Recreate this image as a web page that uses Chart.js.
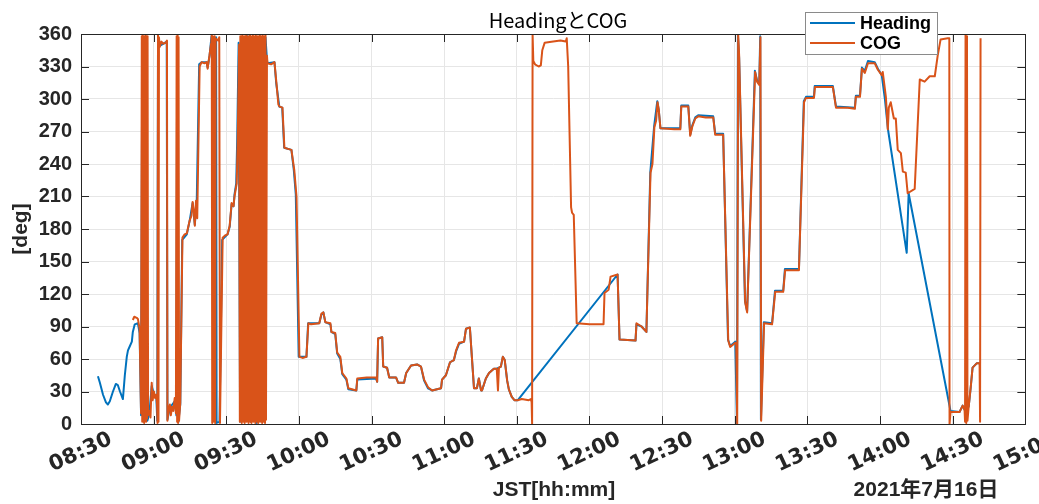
<!DOCTYPE html>
<html>
<head>
<meta charset="utf-8">
<script src="https://cdn.jsdelivr.net/npm/chart.js@4/dist/chart.umd.min.js"></script>
<style>
  html, body { margin: 0; padding: 0; background: #ffffff; }
  canvas { display: block; }
</style>
</head>
<body>
<canvas id="c" width="1039" height="504"></canvas>
<script>
// ---- data (x = minutes after 08:30 JST, y = degrees) ----
const xTickLabels = ['08:30','09:00','09:30','10:00','10:30','11:00','11:30','12:00','12:30','13:00','13:30','14:00','14:30','15:00'];
const yTickValues = [0,30,60,90,120,150,180,210,240,270,300,330,360];

const headingTime = [7.0,7.8,9.1,10.3,11.1,11.9,13.2,14.4,15.2,16.1,17.3,18.1,18.9,19.4,20.2,21.0,21.4,22.2,23.5,24.2,24.8,25.3,26.0,26.7,27.4,28.2,29.2,30.1,31.1,31.5,31.8,32.5,35.4,35.7,36.7,38.7,39.4,39.7,40.2,41.0,41.8,43.7,44.9,46.1,47.0,47.8,48.8,49.8,51.9,52.3,53.1,53.9,55.0,55.8,56.0,57.2,58.3,60.5,61.4,62.2,63.0,63.4,64.1,64.5,65.1,65.7,66.5,67.6,68.8,70.1,71.3,72.6,73.9,75.0,76.2,76.8,77.0,79.9,80.6,81.9,83.1,83.9,86.9,87.9,88.7,89.9,93.1,93.8,98.4,99.3,100.1,100.9,103.0,103.4,105.0,105.8,107.1,107.9,109.6,110.4,113.7,114.1,121.9,122.3,122.7,124.4,124.8,126.4,127.3,130.1,131.0,133.4,134.3,136.3,138.8,140.4,141.7,143.3,145.0,148.7,149.1,150.7,152.4,154.0,154.9,156.1,158.2,159.0,160.6,162.3,163.5,164.3,165.2,165.6,167.2,168.5,170.5,171.7,172.6,173.4,174.2,175.0,176.0,176.7,177.9,179.0,180.4,221.6,222.4,229.0,229.4,231.5,233.5,235.1,236.7,238.0,238.6,239.3,247.5,247.9,250.8,251.6,252.5,253.7,254.9,261.1,261.9,265.2,267.2,268.1,270.2,270.9,271.3,271.8,274.2,275.1,278.3,279.2,280.1,280.5,280.8,282.0,285.4,286.6,290.0,290.7,296.5,298.5,299.4,302.7,303.0,310.5,311.8,319.6,320.0,321.7,322.5,323.7,325.0,327.8,329.1,330.7,332.0,333.2,341.0,341.8,359.1,362.8,364.1,364.9,366.6,367.4,368.2,369.9,371.1];
const headingDeg = [44,38,27,20,18,21,30,37,36,30,23,45,62,68,72,76,85,92,93,84,8,357,2,358,3,9,35,28,25,3,357,349,353,4,15,21,8,357,2,18,170,175,188,204,184,206,332,334,334,329,340,358,356,357,1,2,170,175,182,203,201,212,222,262,352,2,357,3,358,2,357,1,358,2,357,336,333,334,315,293,292,255,253,234,212,62,62,93,93,101,103,94,92,85,83,65,60,46,41,32,31,41,42,39,79,80,53,52,43,43,38,38,47,54,55,53,40,33,31,33,41,45,57,59,67,74,76,88,89,33,33,42,31,31,42,47,51,51,52,53,62,59,40,32,25,22,22,138,78,77,92,90,85,232,275,298,290,273,273,294,294,267,276,283,285,284,268,268,78,72,76,1,359,338,114,104,326,317,314,358,4,94,93,123,123,143,143,298,302,302,312,312,293,292,303,303,329,326,335,334,328,322,300,273,158,213,12,11,17,13,16,33,52,56,56];

const cogTime = [21.4,22.0,23.0,23.5,24.2,24.8,25.1,25.3,25.5,25.7,25.9,26.1,26.3,26.5,26.7,26.9,27.1,27.3,27.5,27.7,28.2,28.7,29.2,29.6,30.1,30.6,31.1,31.4,31.6,31.8,32.0,32.2,32.5,33.2,34.0,35.0,35.5,35.7,36.2,36.7,37.1,37.6,38.1,38.7,39.2,39.5,39.7,39.9,40.1,40.3,40.5,41.0,41.9,42.8,43.7,44.9,45.6,46.1,46.6,47.0,47.5,48.0,49.0,49.8,51.0,51.9,52.3,53.1,53.8,54.0,54.2,54.4,54.6,54.8,55.0,55.2,55.4,55.6,56.0,56.6,57.1,57.4,58.5,59.5,60.5,61.4,62.2,63.0,63.4,64.3,64.7,65.3,65.6,65.8,66.0,66.2,66.4,66.6,66.8,67.0,67.2,67.4,67.6,67.8,68.0,68.2,68.4,68.6,68.8,69.0,69.2,69.4,69.6,69.8,70.0,70.2,70.4,70.6,70.8,71.0,71.2,71.4,71.6,71.8,72.0,72.2,72.4,72.6,72.8,73.0,73.2,73.4,73.6,73.8,74.0,74.2,74.4,74.6,74.8,75.0,75.2,75.4,75.6,75.8,76.0,76.2,76.4,76.8,77.0,78.5,79.9,80.7,81.5,82.0,83.2,84.0,85.5,86.9,88.1,89.0,90.2,91.5,93.1,93.9,95.0,98.4,99.3,100.1,100.9,103.0,103.4,105.0,105.8,107.1,107.9,109.6,110.4,113.7,114.1,118.0,121.9,122.3,122.7,124.4,124.8,126.4,127.3,130.1,131.0,133.4,134.3,136.3,138.8,140.4,141.7,143.3,145.0,148.7,149.1,150.7,152.4,154.0,154.9,156.1,158.2,159.0,160.6,162.3,163.5,164.3,165.2,165.6,167.2,168.5,170.5,171.7,172.2,172.6,173.4,174.2,175.0,176.0,176.7,177.9,179.0,180.4,182.0,184.9,185.8,186.1,186.3,186.5,186.8,187.5,189.0,189.9,190.5,191.5,195.0,198.0,200.2,200.6,201.2,202.4,202.8,203.5,204.7,210.0,215.8,216.2,217.9,218.7,221.6,222.4,229.0,229.4,231.5,233.5,235.2,236.0,236.8,237.5,238.1,238.6,239.3,245.0,247.5,247.9,250.8,251.6,252.5,253.7,254.9,258.0,261.1,261.9,265.2,267.3,268.1,270.2,270.6,271.0,271.4,271.8,274.3,275.1,278.4,279.2,280.1,280.6,280.9,282.1,285.4,286.7,290.0,290.8,296.5,298.6,299.4,302.7,303.1,310.5,311.8,316.7,319.6,320.0,321.7,322.5,323.7,325.0,327.8,329.1,330.7,331.1,332.4,333.2,333.6,334.4,335.7,336.5,337.3,338.6,339.4,340.6,341.4,344.3,346.4,348.4,350.5,352.6,353.8,355.0,357.9,358.6,358.7,359.1,362.8,364.1,364.9,365.1,365.3,365.6,365.9,366.1,366.6,367.4,368.2,369.9,371.1,371.3,371.5];
const cogDeg = [96,99,98,97,88,10,358,2,359,3,357,1,358,4,359,2,357,5,358,8,12,6,38,22,30,24,27,18,1,359,2,357,348,353,351,352,354,3,14,18,8,16,12,24,10,358,2,359,1,357,3,20,172,175,176,188,192,205,196,183,206,190,330,334,333,334,328,341,352,359,1,358,2,357,3,358,1,356,355,354,357,1,172,174,175,183,204,201,210,222,260,350,2,358,3,357,1,359,4,356,2,358,1,357,3,359,2,356,4,358,1,357,3,359,2,358,1,356,3,359,2,357,4,358,1,359,3,356,2,358,1,357,4,359,2,358,3,356,1,359,2,357,3,358,1,359,4,340,333,332,334,315,295,293,292,255,254,253,234,210,62,61,62,93,92,93,102,103,94,93,85,84,66,62,47,42,33,31,42,43,43,39,79,80,53,52,43,43,38,38,47,54,55,53,41,34,31,33,41,45,57,59,68,75,76,88,89,33,33,42,31,31,42,47,51,51,31,52,53,62,59,40,32,25,22,22,23,22,23,20,0,360,335,332,330,331,345,352,353,354,353,356,330,200,195,193,93,92,92,121,124,136,138,78,77,93,90,85,232,240,274,280,297,290,273,272,272,293,293,266,275,282,284,283,283,267,267,77,71,75,74,0,360,340,112,103,325,316,313,357,3,93,92,122,122,142,142,297,301,301,311,311,292,292,291,302,302,328,324,333,333,327,322,325,302,272,292,297,282,282,253,250,233,232,213,217,318,316,321,321,340,355,356,356,0,11,11,17,13,2,359,1,358,3,16,33,52,56,56,2,356];

const seriesNames = ['Heading', 'COG'];
const seriesColors = ['#0072BD', '#D95319'];

const TICK_COLOR = '#262626';
const FONT_FAMILY = '"Liberation Sans", "Noto Sans CJK JP", sans-serif';

function toPoints(ts, vs) { return ts.map((t, i) => ({ x: t, y: vs[i] })); }

const decorPlugin = {
  id: 'decor',
  afterDraw(chart) {
    const ctx = chart.ctx;
    const { left, right, top, bottom } = chart.chartArea;
    const xs = chart.scales.x, ys = chart.scales.y;
    ctx.save();
    ctx.strokeStyle = TICK_COLOR;
    ctx.lineWidth = 1;
    ctx.strokeRect(Math.round(left) + 0.5, Math.round(top) + 0.5, Math.round(right - left), Math.round(bottom - top));
    ctx.beginPath();
    xs.ticks.forEach(t => {
      const px = Math.round(xs.getPixelForValue(t.value)) + 0.5;
      ctx.moveTo(px, bottom); ctx.lineTo(px, bottom - 8);
      ctx.moveTo(px, top); ctx.lineTo(px, top + 8);
    });
    ys.ticks.forEach(t => {
      const py = Math.round(ys.getPixelForValue(t.value)) + 0.5;
      ctx.moveTo(left, py); ctx.lineTo(left + 8, py);
      ctx.moveTo(right, py); ctx.lineTo(right - 8, py);
    });
    ctx.stroke();

    ctx.fillStyle = '#000000';
    ctx.font = '20px "Noto Sans CJK JP", "Liberation Sans", sans-serif';
    ctx.textAlign = 'center';
    ctx.textBaseline = 'middle';
    ctx.fillText('HeadingとCOG', 558, 20);

    ctx.fillStyle = TICK_COLOR;
    ctx.font = 'bold 21px ' + FONT_FAMILY;
    ctx.fillText('JST[hh:mm]', 554, 490);
    ctx.fillText('2021年7月16日', 926, 490);
    ctx.save();
    ctx.translate(21, 229);
    ctx.rotate(-Math.PI / 2);
    ctx.fillText('[deg]', 0, 0);
    ctx.restore();

    const lx = 805, ly = 12, lw = 132, lh = 42;
    ctx.fillStyle = '#ffffff';
    ctx.fillRect(lx, ly, lw, lh);
    ctx.strokeStyle = '#8a8a8a';
    ctx.lineWidth = 1;
    ctx.strokeRect(lx + 0.5, ly + 0.5, lw, lh);
    const rows = [23, 43];
    seriesNames.forEach((name, i) => {
      ctx.strokeStyle = seriesColors[i];
      ctx.lineWidth = 2;
      ctx.beginPath();
      ctx.moveTo(810, rows[i]);
      ctx.lineTo(855, rows[i]);
      ctx.stroke();
      ctx.fillStyle = '#000000';
      ctx.font = 'bold 18px ' + FONT_FAMILY;
      ctx.textAlign = 'left';
      ctx.textBaseline = 'middle';
      ctx.fillText(name, 860, rows[i] + 1);
    });
    ctx.restore();
  }
};

new Chart(document.getElementById('c'), {
  type: 'line',
  data: {
    datasets: [
      { label: seriesNames[0], data: toPoints(headingTime, headingDeg), borderColor: seriesColors[0],
        borderWidth: 2, pointRadius: 0, tension: 0, fill: false, order: 1, borderDash: [5000, 0], borderJoinStyle: 'round' },
      { label: seriesNames[1], data: toPoints(cogTime, cogDeg), borderColor: seriesColors[1],
        borderWidth: 2, pointRadius: 0, tension: 0, fill: false, order: 0, borderDash: [5000, 0], borderJoinStyle: 'round' }
    ]
  },
  options: {
    responsive: false,
    animation: false,
    devicePixelRatio: 1,
    layout: { padding: { left: 0, right: 11, top: 34, bottom: 0 } },
    plugins: { legend: { display: false }, tooltip: { enabled: false }, title: { display: false } },
    scales: {
      x: {
        type: 'linear', min: 0, max: 390,
        afterBuildTicks: (s) => { s.ticks = xTickLabels.map((_, i) => ({ value: i * 30 })); },
        afterFit: (s) => { s.height = 80; },
        ticks: {
          autoSkip: false, minRotation: 25, maxRotation: 25, padding: 3, labelOffset: 30,
          color: TICK_COLOR, font: { family: '"DejaVu Sans", sans-serif', size: 21, weight: 'bold' },
          callback: (v) => xTickLabels[Math.round(v / 30)]
        },
        grid: { color: '#e6e6e6', lineWidth: 1, drawTicks: false },
        border: { color: TICK_COLOR, width: 1 }
      },
      y: {
        min: 0, max: 360,
        afterBuildTicks: (s) => { s.ticks = yTickValues.map(v => ({ value: v })); },
        afterFit: (s) => { s.width = 81; },
        ticks: {
          padding: 9, color: TICK_COLOR, font: { family: FONT_FAMILY, size: 20, weight: 'bold' },
          callback: (v) => String(v)
        },
        grid: { color: '#e6e6e6', lineWidth: 1, drawTicks: false },
        border: { color: TICK_COLOR, width: 1 }
      }
    }
  },
  plugins: [decorPlugin]
});
</script>
</body>
</html>
